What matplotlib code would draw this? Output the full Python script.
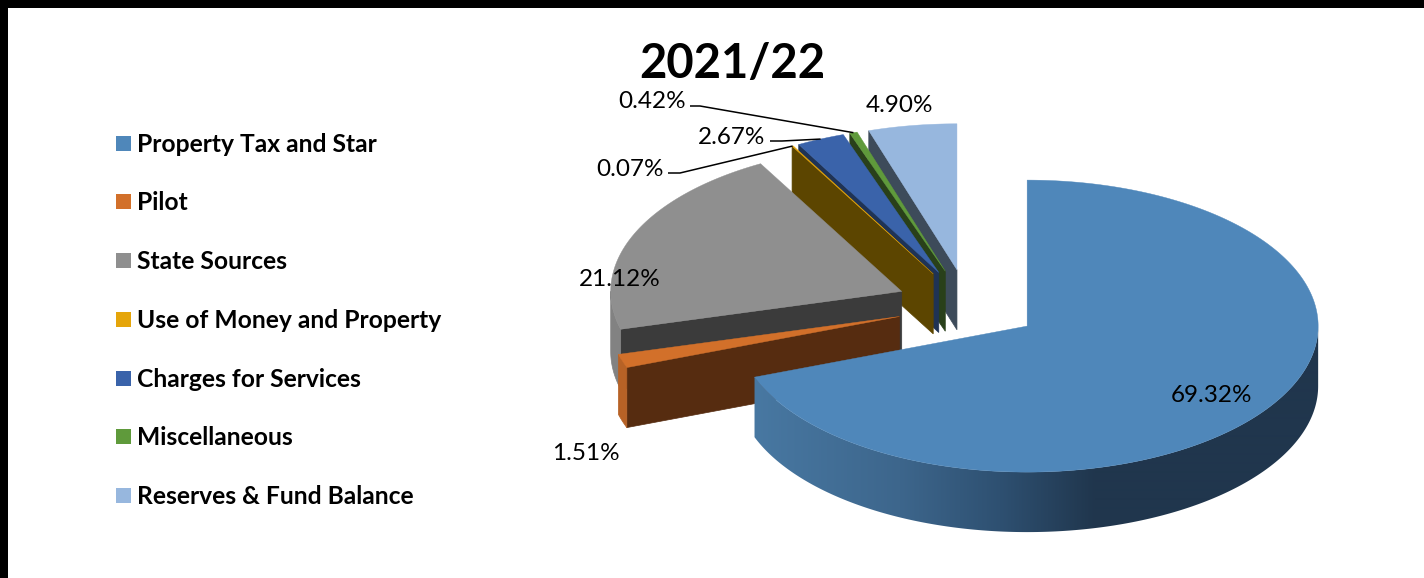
# 2021/22 revenue split drawn as an exploded 3D pie
import numpy as np
import matplotlib
matplotlib.use("Agg")
import matplotlib.pyplot as plt
from matplotlib.colors import to_rgb
from matplotlib.patches import Polygon

plt.rcParams["font.family"] = ["Lato", "DejaVu Sans"]

categories = ["Property Tax and Star", "Pilot", "State Sources", "Use of Money and Property",
              "Charges for Services", "Miscellaneous", "Reserves & Fund Balance"]
values = [69.32, 1.51, 21.12, 0.07, 2.67, 0.42, 4.90]

top_colors = ["#4f87ba", "#d2702a", "#8f8f8f", "#e5a50a", "#3a63aa", "#5f9a3b", "#97b7de"]
cut_colors = ["#2a4a68", "#562c10", "#3b3b3b", "#5c4500", "#1f3355", "#29401a", "#3d4b5a"]
rim_colors = ["#20364d", "#b76226", "#828282", "#8a6806", "#2a4a80", "#3f6627", "#5f7a96"]

# layout, in pixels
CX, CY = 968, 305.5
RX, RY = 291, 146
DEPTH = 60
EXPLODE = 72

# blue rim shading: x position -> colour
rim_x = [754, 900, 1000, 1095]
rim_shade = ["#4878a2", "#3d668c", "#2e5071", "#20364d"]


def ring(theta, ox, oy, dz=0):
    return np.column_stack([ox + RX * np.sin(theta), oy - RY * np.cos(theta) + dz])


def shaded_rim(ax, outline):
    # horizontal gradient clipped to the rim outline
    x = np.arange(1424)
    rgb = np.array([to_rgb(c) for c in rim_shade])
    strip = np.stack([np.interp(x, rim_x, rgb[:, i]) for i in range(3)], axis=-1)[None, :, :]
    im = ax.imshow(strip, extent=(0, 1424, 578, 0), aspect="auto", zorder=1, interpolation="bilinear")
    im.set_clip_path(Polygon(outline, closed=True, transform=ax.transData))


def draw_slice(ax, a0, a1, i):
    mid = (a0 + a1) / 2
    ox = CX + EXPLODE * np.sin(mid)
    oy = CY - EXPLODE * np.cos(mid) * RY / RX
    apex = np.array([ox, oy])
    start = ring(np.array([a0]), ox, oy)[0]

    # radial cut, only seen on slices leaning to the left
    if np.sin(a0) < -1e-6:
        quad = [apex, start, start + [0, DEPTH], apex + [0, DEPTH]]
        ax.fill(*zip(*quad), color=cut_colors[i], lw=0.5)

    # outer rim, front half only
    r0, r1 = max(a0, np.pi / 2), min(a1, 3 * np.pi / 2)
    if r1 > r0:
        th = np.linspace(r0, r1, 240 if i == 0 else 40)
        outline = np.vstack([ring(th, ox, oy), ring(th, ox, oy, DEPTH)[::-1]])
        if i == 0:
            shaded_rim(ax, outline)
        else:
            ax.fill(*zip(*outline), color=rim_colors[i], lw=0.5)

    # top face
    th = np.linspace(a0, a1, max(int((a1 - a0) * 80), 4))
    ax.fill(*zip(*np.vstack([apex, ring(th, ox, oy)])), color=top_colors[i], lw=0.3)
    return ring(np.array([mid]), ox, oy)[0]


fig = plt.figure(figsize=(14.24, 5.78), dpi=100)
ax = fig.add_axes([0, 0, 1, 1])
ax.axis("off")

# black strips along the top and left
ax.axhspan(0, 8, color="black", lw=0)
ax.axvspan(0, 8, color="black", lw=0)

edges = 2 * np.pi * np.concatenate([[0], np.cumsum(values)]) / sum(values)
outer = {}
# back slices first so the front ones paint over them
for i in [6, 5, 4, 3, 2, 1, 0]:
    outer[i] = draw_slice(ax, edges[i], edges[i + 1], i)

ax.set_xlim(0, 1424)
ax.set_ylim(578, 0)

ax.text(732, 64, "2021/22", fontsize=34, fontweight="bold", ha="center", va="center", color="black")

label_pos = [(1211, 396), (586, 454), (620, 279), (630, 169), (732, 137), (652, 102), (899, 105)]
for i, (x, y) in enumerate(label_pos):
    ax.text(x, y, f"{values[i]:.2f}%", fontsize=17.5, ha="center", va="center", color="black")

# leader lines for the thin slices
for i, knee in {3: [(668, 173), (680, 173)], 4: [(770, 141), (782, 141)], 5: [(690, 106), (700, 106)]}.items():
    xs = [p[0] for p in knee] + [outer[i][0]]
    ys = [p[1] for p in knee] + [outer[i][1]]
    ax.plot(xs, ys, color="black", lw=1.1, solid_capstyle="butt")

# legend
legend_y = [143, 201, 260, 319, 378, 436, 495]
for name, color, y in zip(categories, top_colors, legend_y):
    ax.fill([116, 131, 131, 116], [y - 7.5, y - 7.5, y + 7.5, y + 7.5], color=color, lw=0)
    ax.text(137, y + 1.5, name, fontsize=17.7, fontweight="bold", ha="left", va="center", color="black")

fig.savefig("out.png", dpi=100, facecolor="white")
